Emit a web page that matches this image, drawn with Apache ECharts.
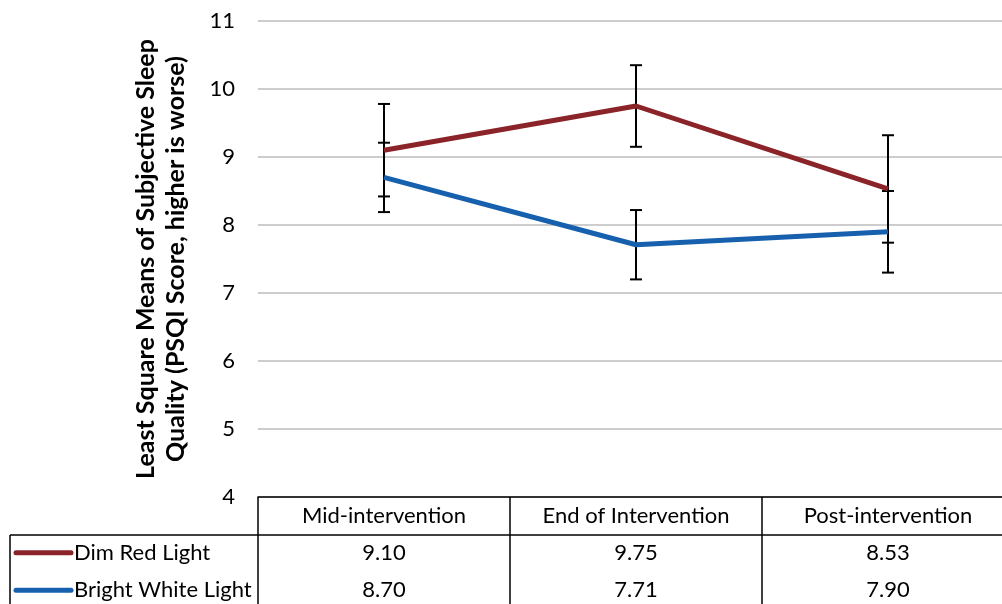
<!DOCTYPE html>
<html>
<head>
<meta charset="utf-8">
<script src="https://cdn.jsdelivr.net/npm/echarts@6/dist/echarts.min.js"></script>
<style>
html,body{margin:0;padding:0;background:#fff;}
#main{width:1002px;height:604px;}
</style>
</head>
<body>
<div id="main"></div>
<script>
// ---- data ----
var categories = ['Mid-intervention', 'End of Intervention', 'Post-intervention'];
var seriesNames = ['Dim Red Light', 'Bright White Light'];
var dimRed = [9.10, 9.75, 8.53];
var brightWhite = [8.70, 7.71, 7.90];
var dimRedErr = [0.68, 0.60, 0.79];
var brightWhiteErr = [0.51, 0.51, 0.60];
var yTicks = [4, 5, 6, 7, 8, 9, 10, 11];
var yTitle = 'Least Square Means of Subjective Sleep\nQuality (PSQI Score, higher is worse)';

var colors = ['#8B2428', '#1660AE'];
var FONT = 'Lato, "Liberation Sans", sans-serif';

var G = {left: 258, top: 21, width: 756, height: 476};

function errData(vals, errs) {
  return vals.map(function (v, i) { return [i, v - errs[i], v + errs[i]]; });
}

function errRender(params, api) {
  var x = api.value(0);
  var lo = api.coord([x, api.value(1)]);
  var hi = api.coord([x, api.value(2)]);
  var cap = 6;
  var st = {stroke: '#000', lineWidth: 2};
  return {
    type: 'group',
    children: [
      {type: 'line', shape: {x1: lo[0], y1: lo[1], x2: hi[0], y2: hi[1]}, style: st},
      {type: 'line', shape: {x1: lo[0] - cap, y1: lo[1], x2: lo[0] + cap, y2: lo[1]}, style: st},
      {type: 'line', shape: {x1: hi[0] - cap, y1: hi[1], x2: hi[0] + cap, y2: hi[1]}, style: st}
    ]
  };
}

var chart = echarts.init(document.getElementById('main'), null, {renderer: 'canvas'});

var rich = {
  h: {fontSize: 22, fontFamily: FONT, color: '#000', lineHeight: 36},
  r: {fontSize: 22, fontFamily: FONT, color: '#000', lineHeight: 37}
};

var option = {
  animation: false,
  backgroundColor: '#fff',
  grid: {left: G.left, top: G.top, width: G.width, height: G.height, containLabel: false, outerBoundsMode: 'none'},
  xAxis: {
    type: 'category',
    data: categories,
    boundaryGap: true,
    axisLine: {show: true, lineStyle: {color: '#000', width: 1.5}},
    axisTick: {show: false},
    splitLine: {show: false},
    axisLabel: {
      show: true,
      margin: 1,
      interval: 0,
      formatter: function (val, idx) {
        return '{h|' + val + '}\n{r|' + dimRed[idx].toFixed(2) + '}\n{r|' + brightWhite[idx].toFixed(2) + '}';
      },
      rich: rich
    }
  },
  yAxis: {
    type: 'value',
    min: yTicks[0],
    max: yTicks[yTicks.length - 1],
    interval: 1,
    axisLine: {show: false},
    axisTick: {show: false},
    axisLabel: {fontSize: 22, fontFamily: FONT, color: '#000', margin: 23},
    splitLine: {show: true, lineStyle: {color: '#BDBDBD', width: 1.5}},
    name: yTitle,
    nameLocation: 'middle',
    nameRotate: 90,
    nameGap: 67,
    nameTextStyle: {fontSize: 25, fontWeight: 'bold', fontFamily: FONT, color: '#000', lineHeight: 30}
  },
  series: [
    {type: 'custom', name: seriesNames[0] + ' err', renderItem: errRender, data: errData(dimRed, dimRedErr), z: 2, silent: true},
    {type: 'custom', name: seriesNames[1] + ' err', renderItem: errRender, data: errData(brightWhite, brightWhiteErr), z: 2, silent: true},
    {type: 'line', name: seriesNames[0], data: dimRed, symbol: 'none', lineStyle: {color: colors[0], width: 5}, itemStyle: {color: colors[0]}, z: 3},
    {type: 'line', name: seriesNames[1], data: brightWhite, symbol: 'none', lineStyle: {color: colors[1], width: 5}, itemStyle: {color: colors[1]}, z: 3}
  ]
};
chart.setOption(option);

// ---- data table frame and legend keys (layout only) ----
var bottom = G.top + G.height;        // 497
var rowTop = 535;
var rowH = 37.5;
var bandW = G.width / categories.length;
var tableLeft = 10;
var lineSt = {stroke: '#000', lineWidth: 1.5};
var els = [];
els.push({type: 'line', shape: {x1: tableLeft, y1: rowTop, x2: G.left + G.width, y2: rowTop}, style: lineSt});
els.push({type: 'line', shape: {x1: tableLeft, y1: rowTop, x2: tableLeft, y2: 620}, style: lineSt});
for (var i = 0; i <= categories.length; i++) {
  var x = G.left + bandW * i;
  els.push({type: 'line', shape: {x1: x, y1: bottom, x2: x, y2: 620}, style: lineSt});
}
seriesNames.forEach(function (n, k) {
  var cy = rowTop + rowH * k + rowH / 2 - 1;
  els.push({type: 'line', shape: {x1: 16, y1: cy, x2: 71, y2: cy}, style: {stroke: colors[k], lineWidth: 5, lineCap: 'round'}});
  els.push({type: 'text', x: 74, y: cy, style: {text: n, fontSize: 22, fontFamily: FONT, fill: '#000', verticalAlign: 'middle', align: 'left'}});
});
chart.setOption({graphic: {elements: els}});
</script>
</body>
</html>
